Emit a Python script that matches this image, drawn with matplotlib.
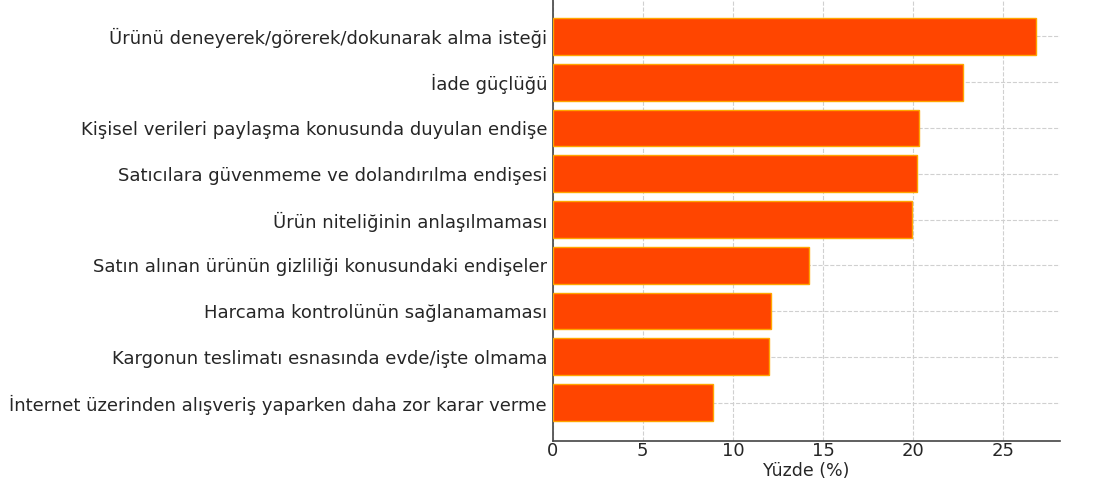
import matplotlib
matplotlib.use("Agg")
import matplotlib.pyplot as plt

categories = [
    "Ürünü deneyerek/görerek/dokunarak alma isteği",
    "İade güçlüğü",
    "Kişisel verileri paylaşma konusunda duyulan endişe",
    "Satıcılara güvenmeme ve dolandırılma endişesi",
    "Ürün niteliğinin anlaşılmaması",
    "Satın alınan ürünün gizliliği konusundaki endişeler",
    "Harcama kontrolünün sağlanamaması",
    "Kargonun teslimatı esnasında evde/işte olmama",
    "İnternet üzerinden alışveriş yaparken daha zor karar verme",
]
values = [26.8, 22.75, 20.35, 20.2, 19.95, 14.2, 12.1, 12.0, 8.9]
xticks = [0, 5, 10, 15, 20, 25]
xlabel = "Yüzde (%)"

plt.rcParams['font.family'] = ['DejaVu Sans']
text_color = "#262626"

fig = plt.figure(figsize=(11.12, 4.87), dpi=100)
ax = fig.add_axes([0.497, 1 - 441 / 487, 0.456, 443 / 487])

ax.barh(categories[::-1], values[::-1], height=0.8, color="#FF4500",
        edgecolor="#FFA500", linewidth=1.0, zorder=3)
ax.set_xticks(xticks)
ax.set_xlabel(xlabel, fontsize=12.5, color=text_color, labelpad=1)
ax.grid(True, linestyle="--", color="#d0d0d0", linewidth=0.8, zorder=0)
ax.set_axisbelow(True)
for s in ["top", "right"]:
    ax.spines[s].set_visible(False)
for s in ["left", "bottom"]:
    ax.spines[s].set_color("#444444")
    ax.spines[s].set_linewidth(1.2)
ax.tick_params(axis="y", direction="in", length=5, colors="#333333", labelsize=13, labelcolor=text_color, pad=4)
ax.tick_params(axis="x", direction="in", length=0, labelsize=13, labelcolor=text_color, pad=1)

fig.savefig("out.png", dpi=100)
